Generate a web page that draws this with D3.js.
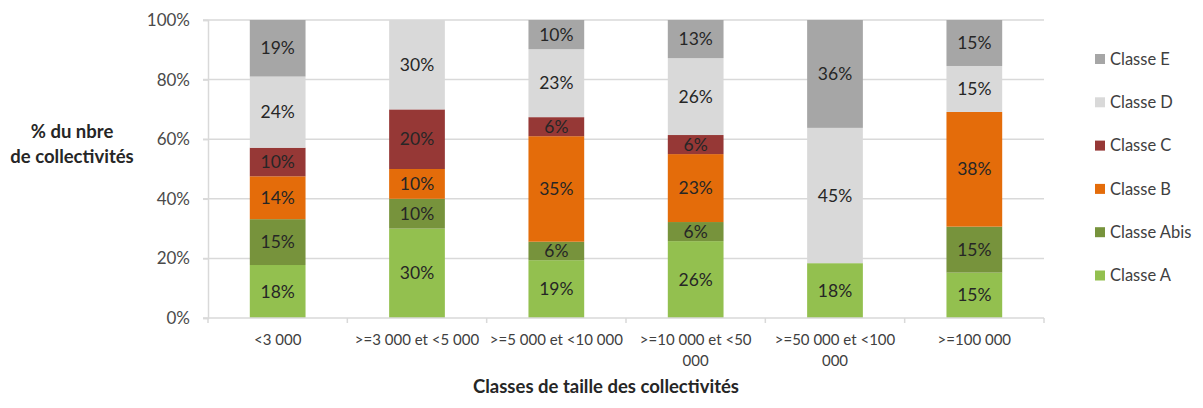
<!DOCTYPE html>
<html>
<head>
<meta charset="utf-8">
<script src="https://cdn.jsdelivr.net/npm/d3@7"></script>
<style>
  body { margin: 0; background: #fff; }
  svg text { font-family: Lato, "Open Sans", sans-serif; }
</style>
</head>
<body>
<div id="chart"></div>
<script>
var svgWidth = 1203, svgHeight = 408;
var margin = {top: 20, right: 159, bottom: 90, left: 208};
var width = svgWidth - margin.left - margin.right;
var height = svgHeight - margin.top - margin.bottom;

// categories (tick labels, "\n" = line break)
var categories = ["<3 000", ">=3 000 et <5 000", ">=5 000 et <10 000",
                  ">=10 000 et <50\n000", ">=50 000 et <100\n000", ">=100 000"];
var seriesNames = ["Classe A", "Classe Abis", "Classe B", "Classe C", "Classe D", "Classe E"];
var seriesColors = ["#93c04f", "#77933c", "#e46c0a", "#963836", "#d9d9d9", "#a6a6a6"];

// values in %
var classeA    = [17.8, 30, 19.4, 25.8, 18.4, 15.2];
var classeAbis = [15.4, 10,  6.2,  6.4,  0,   15.4];
var classeB    = [14.4, 10, 35.4, 22.8,  0,   38.4];
var classeC    = [ 9.6, 20,  6.4,  6.4,  0,    0  ];
var classeD    = [23.9, 30, 22.8, 25.8, 45.4, 15.4];
var classeE    = [19.0,  0,  9.8, 12.8, 36.2, 15.4];
var yTicks = [0, 0.2, 0.4, 0.6, 0.8, 1];

var allSeries = [classeA, classeAbis, classeB, classeC, classeD, classeE];

var data = categories.map(function(c, i) {
    var row = {cat: c};
    seriesNames.forEach(function(s, j) { row[s] = allSeries[j][i]; });
    return row;
});

var stacked = d3.stack().keys(seriesNames).offset(d3.stackOffsetExpand)(data);

var x = d3.scaleBand().domain(categories).range([0, width]).paddingInner(0.6).paddingOuter(0.3);
var y = d3.scaleLinear().domain([0, 1]).range([height, 0]);

var svg = d3.select("#chart").append("svg")
    .attr("width", svgWidth)
    .attr("height", svgHeight);

var g = svg.append("g")
    .attr("transform", "translate(" + margin.left + "," + margin.top + ")");

// gridlines
g.append("g")
    .selectAll("line")
    .data(yTicks.slice(1))
    .enter().append("line")
    .attr("x1", -5).attr("x2", width)
    .attr("y1", function(d) { return y(d); })
    .attr("y2", function(d) { return y(d); })
    .attr("stroke", "#d9d9d9")
    .attr("stroke-width", 1.5);

// y axis
var yAxis = g.append("g")
    .call(d3.axisLeft(y).tickValues(yTicks).tickFormat(d3.format(".0%")).tickSize(5).tickPadding(13));
yAxis.select(".domain").attr("stroke", "#d9d9d9").attr("stroke-width", 1.5);
yAxis.selectAll(".tick line").attr("stroke", "#d9d9d9").attr("stroke-width", 1.5);
yAxis.selectAll("text").attr("font-size", 17).attr("fill", "#4a4a4a").style("font-family", "Lato, sans-serif");

// bars
var layer = g.selectAll(".layer")
    .data(stacked)
    .enter().append("g")
    .attr("class", "layer")
    .attr("fill", function(d, i) { return seriesColors[i]; });

layer.selectAll("rect")
    .data(function(d) { return d.map(function(p) { p.key = d.key; return p; }); })
    .enter().append("rect")
    .attr("x", function(d) { return x(d.data.cat); })
    .attr("y", function(d) { return y(d[1]); })
    .attr("width", x.bandwidth())
    .attr("height", function(d) { return y(d[0]) - y(d[1]); });

// value labels
layer.selectAll("text")
    .data(function(d) { return d.filter(function(p) { return p.data[p.key] > 0; }); })
    .enter().append("text")
    .attr("x", function(d) { return x(d.data.cat) + x.bandwidth() / 2; })
    .attr("y", function(d) { return (y(d[0]) + y(d[1])) / 2; })
    .attr("dy", "0.35em")
    .attr("text-anchor", "middle")
    .attr("font-size", 17.5)
    .attr("fill", "#262626")
    .text(function(d) { return Math.round(d.data[d.key]) + "%"; });

// x axis
var xAxisG = g.append("g").attr("transform", "translate(0," + height + ")");
xAxisG.append("line")
    .attr("x1", -5).attr("x2", width)
    .attr("stroke", "#d9d9d9").attr("stroke-width", 1.5);
var tickPos = d3.range(categories.length + 1).map(function(i) { return i * width / categories.length; });
xAxisG.selectAll(".xtick")
    .data(tickPos)
    .enter().append("line")
    .attr("x1", function(d) { return d; }).attr("x2", function(d) { return d; })
    .attr("y1", 0).attr("y2", 5)
    .attr("stroke", "#d9d9d9").attr("stroke-width", 1.5);

var xl = xAxisG.selectAll(".xlabel")
    .data(categories)
    .enter().append("text")
    .attr("text-anchor", "middle")
    .attr("font-size", 15)
    .attr("fill", "#404040")
    .attr("transform", function(d) { return "translate(" + (x(d) + x.bandwidth() / 2) + ",27)"; });
xl.selectAll("tspan")
    .data(function(d) { return d.split("\n"); })
    .enter().append("tspan")
    .attr("x", 0)
    .attr("dy", function(d, i) { return i == 0 ? 0 : 21; })
    .text(function(d) { return d; });

// axis titles
svg.append("text")
    .attr("x", 606)
    .attr("y", 393)
    .attr("text-anchor", "middle")
    .attr("font-size", 18.5)
    .attr("font-weight", "bold")
    .attr("fill", "#262626")
    .text("Classes de taille des collectivités");

var yt = svg.append("text")
    .attr("text-anchor", "middle")
    .attr("font-size", 18.5)
    .attr("font-weight", "bold")
    .attr("fill", "#262626");
yt.append("tspan").attr("x", 72).attr("y", 138).text("% du nbre");
yt.append("tspan").attr("x", 72).attr("y", 163).text("de collectivités");

// legend (top-down: E .. A)
var legend = svg.append("g").attr("transform", "translate(1095,0)");
var legItems = legend.selectAll("g")
    .data(seriesNames.slice().reverse())
    .enter().append("g")
    .attr("transform", function(d, i) { return "translate(0," + (59 + i * 43.3) + ")"; });
legItems.append("rect")
    .attr("x", 0).attr("y", -5)
    .attr("width", 10).attr("height", 10)
    .attr("fill", function(d) { return seriesColors[seriesNames.indexOf(d)]; });
legItems.append("text")
    .attr("x", 15)
    .attr("dy", "0.35em")
    .attr("font-size", 16.5)
    .attr("fill", "#404040")
    .text(function(d) { return d; });
</script>
</body>
</html>
